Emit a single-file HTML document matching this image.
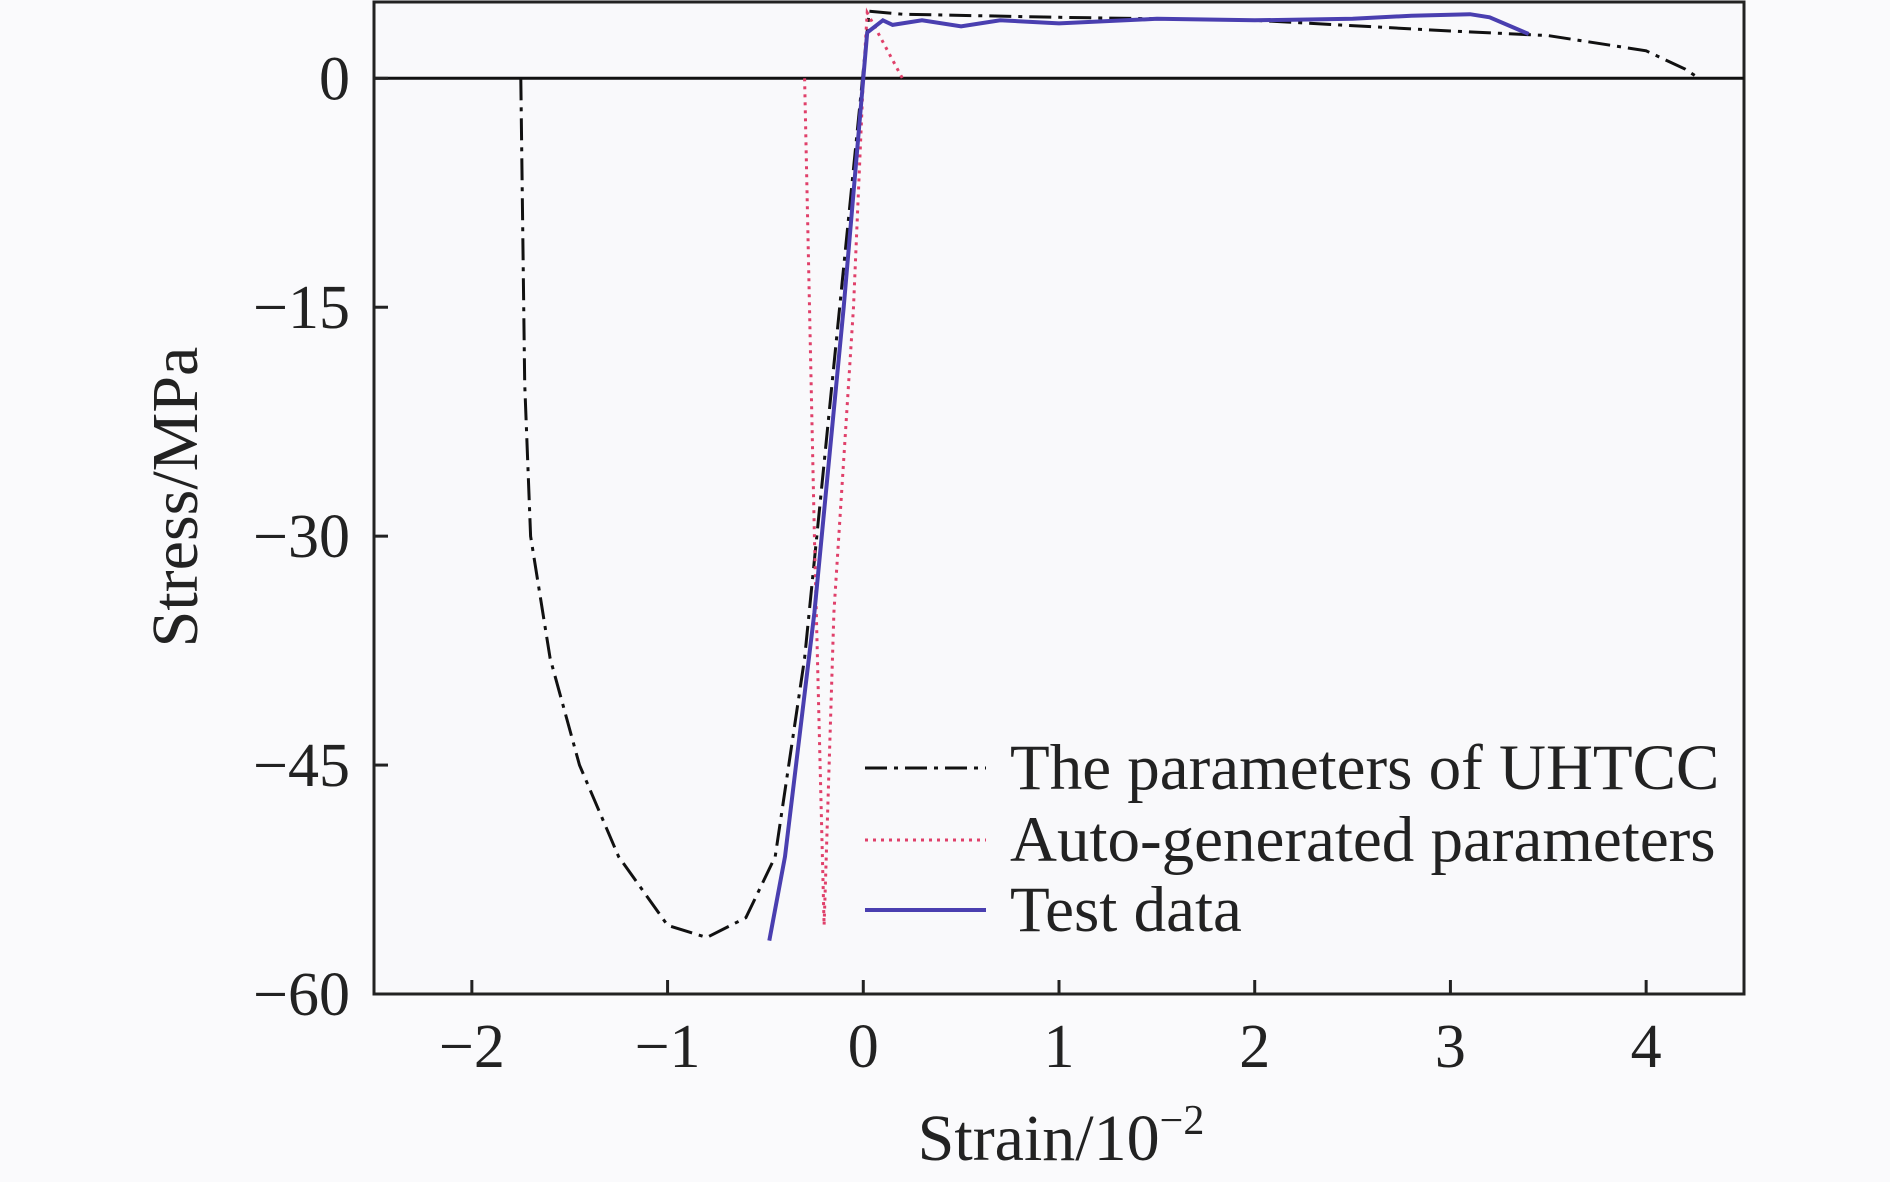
<!DOCTYPE html>
<html><head><meta charset="utf-8"><style>
html,body{margin:0;padding:0;background:#fafafc;}
svg{display:block;font-family:"Liberation Serif",serif;}
</style></head><body>
<svg id="chart" width="1890" height="1182">
<g id="plot"></g>
</svg>
<script>
const xTicks=[-2,-1,0,1,2,3,4];
const yTicks=[0,-15,-30,-45,-60];
const uhtccX=[-1.75,-1.73,-1.7,-1.6,-1.45,-1.25,-1.0,-0.8,-0.6,-0.45,-0.3,0,0.03,0.2,1,2,3,3.5,4.0,4.2,4.27];
const uhtccY=[0,-20,-30,-38,-45,-51,-55.5,-56.3,-55,-51,-38,0.5,4.4,4.2,4.0,3.8,3.1,2.8,1.8,0.6,0];
const autoX=[-0.3,-0.25,-0.2,-0.15,-0.05,0,0.02,0.2];
const autoY=[0,-30,-55.5,-35,-15,0,4.3,0];
const testX=[-0.48,-0.4,-0.25,-0.1,0,0.02,0.1,0.15,0.3,0.5,0.7,1,1.5,2,2.5,2.8,3.1,3.2,3.4];
const testY=[-56.5,-51,-35,-15,0,3,3.8,3.5,3.8,3.4,3.8,3.6,3.9,3.8,3.9,4.1,4.2,4.0,2.9];
const L=374,R=1744,T=2,B=994;
const xs=v=>L+(v+2.5)/7*(R-L);
const ys=v=>T+(5-v)/65*(B-T);
const NS="http://www.w3.org/2000/svg";
const g=document.getElementById('plot');
function mk(t,a,p){const e=document.createElementNS(NS,t);for(const k in a)e.setAttribute(k,a[k]);(p||g).appendChild(e);return e;}
const frame=mk('rect',{x:L,y:T,width:R-L,height:B-T,fill:'#f9f9fb',stroke:'#222','stroke-width':3});


const zl=mk('line',{x1:L,x2:R,y1:ys(0),y2:ys(0),stroke:'#111','stroke-width':3});


xTicks.forEach(v=>{
 const t=mk('line',{x1:xs(v),x2:xs(v),y1:B,y2:B-14,stroke:'#222','stroke-width':3});
 
 
 const s=mk('text',{x:xs(v),y:1067,'font-size':62,'text-anchor':'middle',fill:'#222'});
 s.textContent=v<0?'\u2212'+(-v):String(v);
 
 
});
yTicks.forEach(v=>{
 const t=mk('line',{x1:L,x2:L+14,y1:ys(v),y2:ys(v),stroke:'#222','stroke-width':3});
 
 
 const s=mk('text',{x:350,y:ys(v)+21,'font-size':62,'text-anchor':'end',fill:'#222'});
 s.textContent=v<0?'\u2212'+(-v):String(v);
 
 
});
function series(X,Y,st,name){
 const d=X.map((x,i)=>(i?'L':'M')+xs(x).toFixed(1)+','+ys(Y[i]).toFixed(1)).join(' ');
 const p=mk('path',Object.assign({d:d,fill:'none'},st));
 
 
}
series(uhtccX,uhtccY,{stroke:'#111','stroke-width':3,'stroke-dasharray':'22,7,4,7'},'uhtcc-line');
series(autoX,autoY,{stroke:'#e0406a','stroke-width':3,'stroke-dasharray':'3,5'},'auto-generated-line');
series(testX,testY,{stroke:'#4a3fb0','stroke-width':4},'test-data-line');
const leg=[['The parameters of UHTCC',{stroke:'#111','stroke-width':3,'stroke-dasharray':'22,7,4,7'}],['Auto-generated parameters',{stroke:'#e0406a','stroke-width':3,'stroke-dasharray':'3,5'}],['Test data',{stroke:'#4a3fb0','stroke-width':4}]];
const ly=[768,840,910];
leg.forEach((e,i)=>{
 const l=mk('line',Object.assign({x1:865,x2:986,y1:ly[i],y2:ly[i]},e[1]));
 
 
 const t=mk('text',{x:1010,y:ly[i]+21,'font-size':65,fill:'#222'});
 t.textContent=e[0];
 
 
});
const xl=mk('text',{x:1061,y:1160,'font-size':66,'text-anchor':'middle',fill:'#222'});
xl.innerHTML='Strain/10<tspan dy="-26" font-size="42">\u22122</tspan>';


const yl=mk('text',{x:0,y:0,'font-size':66,'text-anchor':'middle',fill:'#222',transform:'translate(197,497) rotate(-90)'});
yl.textContent='Stress/MPa';


</script>
</body></html>
